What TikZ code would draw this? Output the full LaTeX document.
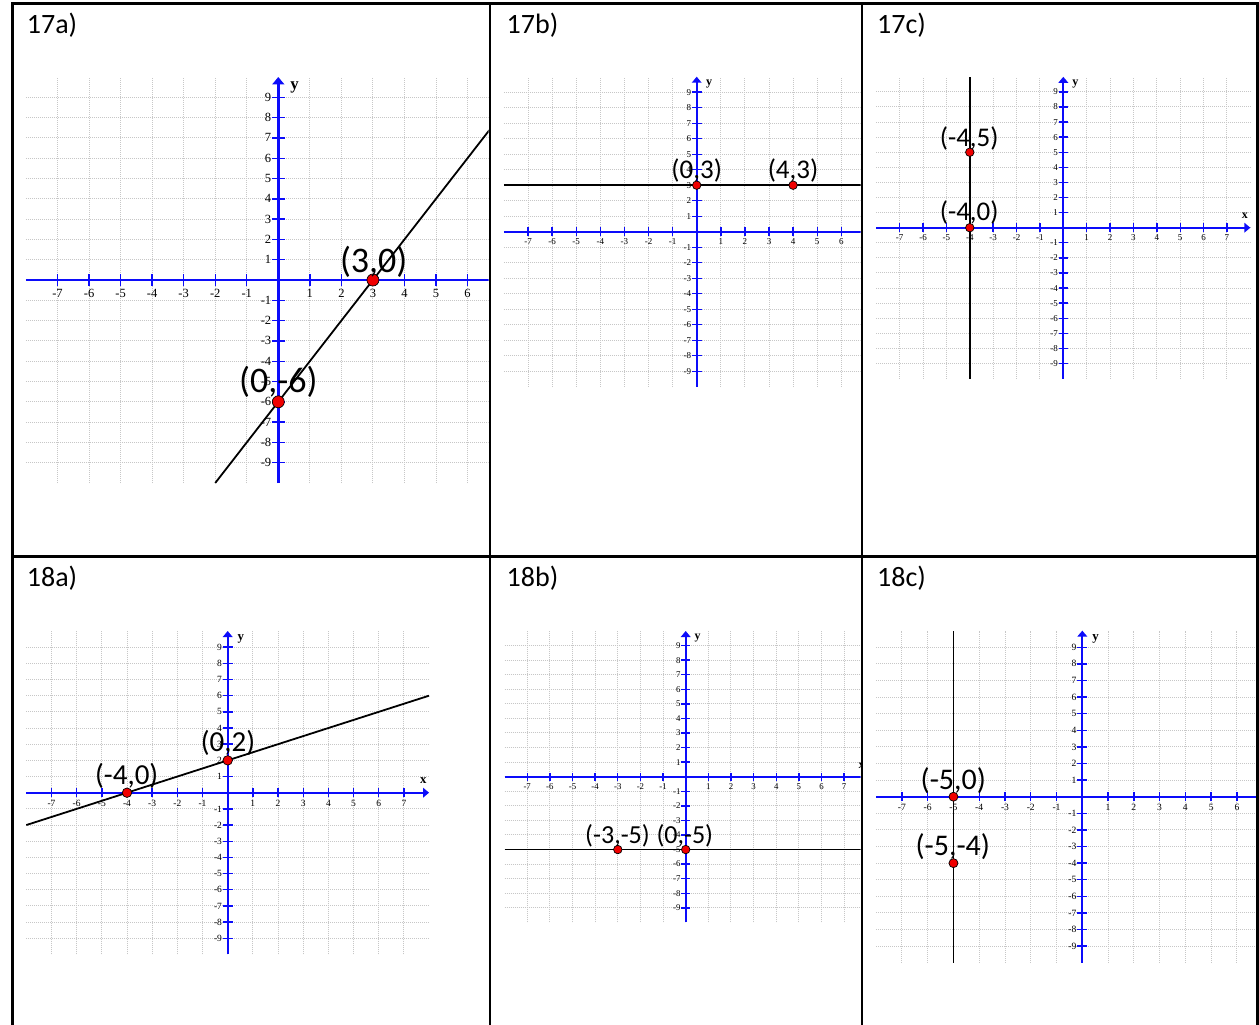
\documentclass[tikz,border=0pt]{standalone}
\usepackage{fontspec}
\setmainfont{Carlito}
\newfontfamily\tickfont{Liberation Serif}
\usetikzlibrary{arrows.meta}
\definecolor{axisblue}{RGB}{12,12,250}
\definecolor{dotred}{RGB}{240,0,0}
\tikzset{
  plotarea/.style n args={4}{shift={(#1pt,-#2pt)}, x={(#3pt,0pt)}, y={(0pt,#4pt)}},
  gridline/.style={draw=black!22, line width=1pt, dash pattern=on 1pt off 1pt},
  axisline/.style={draw=axisblue, line width=#1, -{Triangle[width=0pt 4.8, length=0pt 3]}},
  tickline/.style={draw=axisblue, line width=1.4pt},
  cellborder/.style={draw=black, line width=2.6pt},
  fnline/.style={draw=black, line width=1.8pt},
  reddot/.style={circle, fill=dotred, draw=black, line width=0.7pt, inner sep=0pt, minimum size=#1},
  ptlabel/.style={inner sep=0pt, font=\fontsize{#1}{#1}\selectfont},
  celltitle/.style={inner sep=0pt, anchor=base west, font=\fontsize{28}{30}\selectfont},
  ticklab/.style={inner sep=0pt, font=\tickfont\fontsize{#1}{#1}\selectfont},
  axlab/.style={inner sep=0pt, font=\tickfont\bfseries\fontsize{#1}{#1}\selectfont},
}
% #1 prefix, #2 max x tick, #3 tick font size, #4 axis width
\newcommand{\graphbase}[4]{%
  \foreach \i in {-7,...,7} \draw[gridline] (\i,-10) -- (\i,10);
  \foreach \j in {-9,...,9} \draw[gridline] (-8,\j) -- (8,\j);
  \foreach \i in {-7,...,#2} \draw[tickline] (\i,-0.28) -- (\i,0.28);
  \foreach \j in {-9,...,9} \draw[tickline] (-0.2,\j) -- (0.2,\j);
  \coordinate (#1xl) at (-8,0);
  \coordinate (#1xr) at (8,0);
  \coordinate (#1yb) at (0,-10);
  \coordinate (#1yt) at (0,10);
  \draw[axisline=#4] (#1xl) -- (#1xr);
  \draw[axisline=#4] (#1yb) -- (#1yt);
  \foreach \i in {-7,...,-1,1,2,...,#2} \node[ticklab=#3] (#1xtick\i) at (\i,-0.65) {\i};
  \foreach \j in {-9,...,-1,1,2,...,9} \node[ticklab=#3, anchor=east] (#1ytick\j) at (-0.22,\j) {\j};
  \pgfmathsetmacro\axsize{1.35*#3}
  \node[axlab=\axsize] (#1ylab) at (0.52,9.5) {y};
}
\begin{document}
\begin{tikzpicture}[x=1pt, y=-1pt]
\useasboundingbox (0,0) rectangle (1259,1025);
\fill[white] (0,0) rectangle (1259,1025);

% ---------- 17a ----------
\begin{scope}
\clip (13.6,5) rectangle (488.7,555.4);
\begin{scope}[plotarea={278.3}{280}{31.54}{20.3}]
  \graphbase{A}{6}{12.5}{2.5pt}
  \coordinate (As) at (-2,-10);
  \coordinate (Ae) at (8,10);
  \draw[fnline] (As) -- (Ae);
  \node[reddot=12pt] (Ap1) at (3,0) {};
  \node[reddot=12pt] (Ap2) at (0,-6) {};
\end{scope}
\end{scope}
\node[ptlabel=36] (Al1) at (373.7,261.7) {(3,0)};
\node[ptlabel=36] (Al2) at (278.3,381.7) {(0,-6)};

% ---------- 17b ----------
\begin{scope}
\clip (491.3,5) rectangle (860.7,555.4);
\begin{scope}[plotarea={696.7}{231.7}{24.1}{15.5}]
  \graphbase{B}{6}{9}{2pt}
  \coordinate (Bs) at (-8,3);
  \coordinate (Be) at (8,3);
  \draw[fnline] (Bs) -- (Be);
  \node[reddot=8.5pt] (Bp1) at (0,3) {};
  \node[reddot=8.5pt] (Bp2) at (4,3) {};
\end{scope}
\end{scope}
\node[ptlabel=27] (Bl1) at (696.7,170) {(0,3)};
\node[ptlabel=27] (Bl2) at (793,170) {(4,3)};

% ---------- 17c ----------
\begin{scope}
\clip (863.3,5) rectangle (1256.2,555.4);
\begin{scope}[plotarea={1063.3}{227.7}{23.38}{15.09}]
  \graphbase{C}{7}{9}{2pt}
  \node[axlab=12] (Cxlab) at (7.77,0.78) {x};
  \coordinate (Cs) at (-4,-10);
  \coordinate (Ce) at (-4,10);
  \draw[fnline] (Cs) -- (Ce);
  \node[reddot=8.5pt] (Cp1) at (-4,5) {};
  \node[reddot=8.5pt] (Cp2) at (-4,0) {};
\end{scope}
\end{scope}
\node[ptlabel=27] (Cl1) at (969.2,138) {(-4,5)};
\node[ptlabel=27] (Cl2) at (969.2,212.8) {(-4,0)};

% ---------- 18a ----------
\begin{scope}
\clip (13.6,558) rectangle (488.7,1025);
\begin{scope}[plotarea={227.7}{792.7}{25.17}{16.17}]
  \graphbase{D}{7}{9.5}{2pt}
  \node[axlab=12.8] (Dxlab) at (7.77,0.78) {x};
  \coordinate (Ds) at (-8,-2);
  \coordinate (De) at (8,6);
  \draw[fnline] (Ds) -- (De);
  \node[reddot=9.5pt] (Dp1) at (-4,0) {};
  \node[reddot=9.5pt] (Dp2) at (0,2) {};
\end{scope}
\end{scope}
\node[ptlabel=29] (Dl1) at (126.7,775.8) {(-4,0)};
\node[ptlabel=29] (Dl2) at (228,742.8) {(0,2)};

% ---------- 18b ----------
\begin{scope}
\clip (491.3,558) rectangle (860.7,1025);
\begin{scope}[plotarea={685.7}{776.7}{22.64}{14.57}]
  \graphbase{E}{7}{8.8}{2pt}
  \node[axlab=11.8] (Exlab) at (7.77,0.78) {x};
  \coordinate (Es) at (-8,-5);
  \coordinate (Ee) at (8,-5);
  \draw[fnline] (Es) -- (Ee);
  \node[reddot=8.5pt] (Ep1) at (-3,-5) {};
  \node[reddot=8.5pt] (Ep2) at (0,-5) {};
\end{scope}
\end{scope}
\node[ptlabel=26] (El1) at (617.5,836.2) {(-3,-5)};
\node[ptlabel=26] (El2) at (684.8,836.2) {(0,-5)};

% ---------- 18c ----------
\begin{scope}
\clip (863.3,558) rectangle (1256.2,1025);
\begin{scope}[plotarea={1082.3}{796.7}{25.77}{16.61}]
  \graphbase{F}{6}{9.6}{2pt}
  \coordinate (Fs) at (-5,-10);
  \coordinate (Fe) at (-5,10);
  \draw[fnline] (Fs) -- (Fe);
  \node[reddot=9pt] (Fp1) at (-5,0) {};
  \node[reddot=9pt] (Fp2) at (-5,-4) {};
\end{scope}
\end{scope}
\node[ptlabel=30] (Fl1) at (953.3,780.5) {(-5,0)};
\node[ptlabel=30] (Fl2) at (952.8,846.7) {(-5,-4)};

% ---------- titles ----------
\node[celltitle] (T17a) at (26.7,33.3) {17a)};
\node[celltitle] (T17b) at (506.5,33.3) {17b)};
\node[celltitle] (T17c) at (877,33.3) {17c)};
\node[celltitle] (T18a) at (26.7,586.7) {18a)};
\node[celltitle] (T18b) at (506.5,586.7) {18b)};
\node[celltitle] (T18c) at (877,586.7) {18c)};

% ---------- table borders ----------
\draw[cellborder] (12.3,1025) -- (12.3,3.7) -- (1257.5,3.7) -- (1257.5,1025);
\draw[cellborder] (490,3.7) -- (490,1025);
\draw[cellborder] (862,3.7) -- (862,1025);
\draw[cellborder] (12.3,556.7) -- (1257.5,556.7);
\end{tikzpicture}
\end{document}
